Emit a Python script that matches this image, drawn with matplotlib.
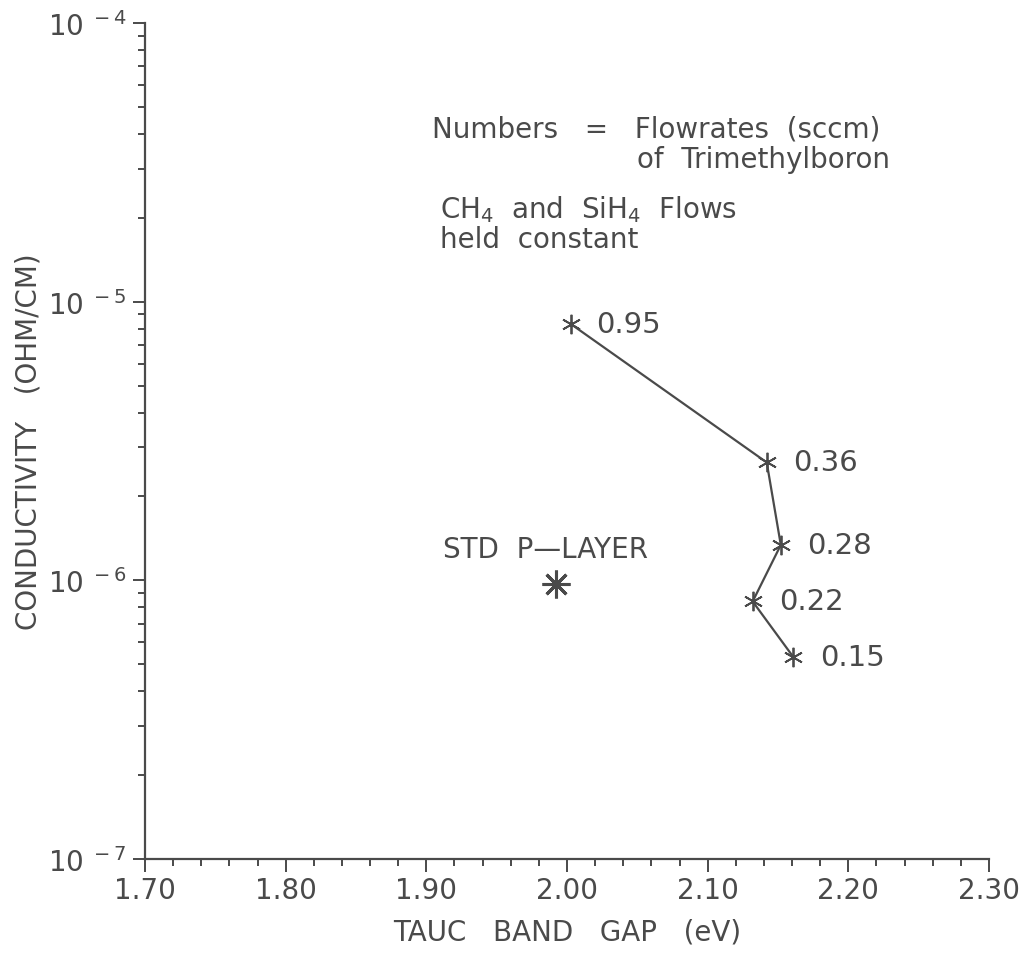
import numpy as np
import matplotlib
matplotlib.use('Agg')
import matplotlib.pyplot as plt
from matplotlib.ticker import FixedLocator, LogLocator, NullFormatter

# data
band_gap = [2.003, 2.142, 2.152, 2.132, 2.161]
conductivity = [8.3e-6, 2.65e-6, 1.34e-6, 8.4e-7, 5.3e-7]
flow_labels = ['0.95', '0.36', '0.28', '0.22', '0.15']
std_gap = [1.992]
std_cond = [9.7e-7]
x_ticks = [1.70, 1.80, 1.90, 2.00, 2.10, 2.20, 2.30]
x_tick_labels = ['1.70', '1.80', '1.90', '2.00', '2.10', '2.20', '2.30']
y_ticks = [1e-7, 1e-6, 1e-5, 1e-4]
y_tick_labels = [r'$10^{\ -7}$', r'$10^{\ -6}$', r'$10^{\ -5}$', r'$10^{\ -4}$']

ink = '#4a4a4a'
plt.rcParams['font.family'] = ['DejaVu Sans']
plt.rcParams['mathtext.fontset'] = 'dejavusans'

fig = plt.figure(figsize=(10.24, 9.54), dpi=100)
ax = fig.add_axes([0.1416, 0.0985, 0.8242, 0.8763])

ax.plot(band_gap, conductivity, color=ink, lw=1.6, marker=(6, 2, 0), ms=14, mew=1.3, mec=ink)
ax.plot(std_gap, std_cond, ls='none', color=ink, marker=(8, 2, 0), ms=20, mew=2.2, mec=ink)

offsets = [0.018, 0.019, 0.019, 0.019, 0.019]
for x, y, lab, dx in zip(band_gap, conductivity, flow_labels, offsets):
    ax.text(x + dx, y, lab, fontsize=21, color=ink, va='center', ha='left')

ax.text(1.912, 1.3e-6, 'STD  P\u2014LAYER', fontsize=20, color=ink, va='center', ha='left')

ax.text(1.904, 4.2e-5, 'Numbers   =   Flowrates  (sccm)', fontsize=20, color=ink, va='center', ha='left')
ax.text(2.0498, 3.25e-5, 'of  Trimethylboron', fontsize=20, color=ink, va='center', ha='left')
ax.text(1.9097, 2.15e-5, r'CH$_4$  and  SiH$_4$  Flows', fontsize=20, color=ink, va='center', ha='left')
ax.text(1.9097, 1.68e-5, 'held  constant', fontsize=20, color=ink, va='center', ha='left')

ax.set_yscale('log')
ax.set_xlim(1.70, 2.30)
ax.set_ylim(1e-7, 1e-4)

ax.xaxis.set_major_locator(FixedLocator(x_ticks))
ax.set_xticklabels(x_tick_labels)
ax.xaxis.set_minor_locator(FixedLocator(np.arange(1.72, 2.30, 0.02)))
ax.yaxis.set_major_locator(FixedLocator(y_ticks))
ax.set_yticklabels(y_tick_labels)
ax.yaxis.set_minor_locator(LogLocator(base=10, subs=np.arange(2, 10)))
ax.yaxis.set_minor_formatter(NullFormatter())

ax.tick_params(axis='both', which='major', length=9, width=1.4, color=ink,
               labelsize=20, labelcolor=ink)
ax.tick_params(axis='both', which='minor', length=5, width=1.4, color=ink)
ax.tick_params(axis='x', pad=3)
ax.tick_params(axis='y', pad=4)

for s in ['top', 'right']:
    ax.spines[s].set_visible(False)
for s in ['left', 'bottom']:
    ax.spines[s].set_color(ink)
    ax.spines[s].set_linewidth(1.6)

ax.set_xlabel('TAUC   BAND   GAP   (eV)', fontsize=20, color=ink, labelpad=10)
ax.set_ylabel('CONDUCTIVITY   (OHM/CM)', fontsize=20, color=ink, labelpad=4)

fig.savefig('out.png', dpi=100)
